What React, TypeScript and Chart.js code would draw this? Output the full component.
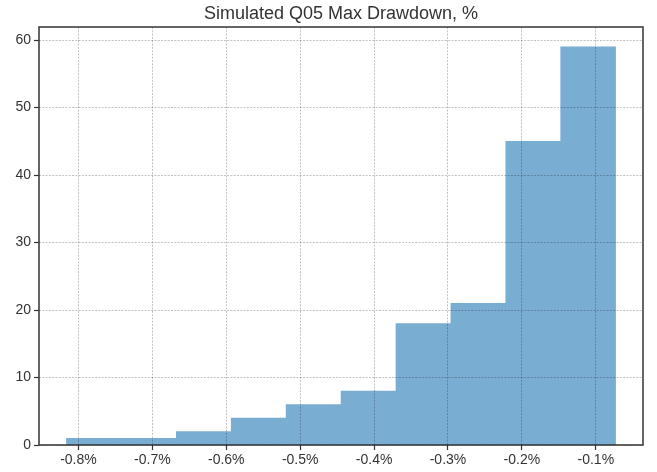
import React, { useEffect, useRef } from "react";
import { Chart, registerables } from "chart.js";

Chart.register(...registerables);

const titleText = "Simulated Q05 Max Drawdown, %";
// histogram bin edges (percent) and counts
const binEdges = [-0.8162, -0.7419, -0.6676, -0.5933, -0.519, -0.4447, -0.3704, -0.2961, -0.2218, -0.1475, -0.0733];
const counts = [1, 1, 2, 4, 6, 8, 18, 21, 45, 59];
const xTicks = [-0.8, -0.7, -0.6, -0.5, -0.4, -0.3, -0.2, -0.1];
const yTicks = [0, 10, 20, 30, 40, 50, 60];

const FONT = "'Liberation Sans', Arial, sans-serif";

const framePlugin = {
  id: "frameAndTitle",
  afterDraw(chart: any) {
    const { ctx, chartArea } = chart;
    ctx.save();
    ctx.strokeStyle = "#333";
    ctx.lineWidth = 1.5;
    ctx.strokeRect(chartArea.left, chartArea.top, chartArea.right - chartArea.left, chartArea.bottom - chartArea.top);
    ctx.fillStyle = "#333";
    ctx.font = `18px ${FONT}`;
    ctx.textAlign = "center";
    ctx.textBaseline = "alphabetic";
    ctx.fillText(titleText, (chartArea.left + chartArea.right) / 2, 19);
    ctx.restore();
  },
};

const gridOpts: any = {
  color: "rgba(0,0,0,0.3)",
  lineWidth: 0.8,
  offset: false,
  drawTicks: true,
  tickLength: 5,
  tickColor: "#333",
  tickWidth: 1.2,
  tickBorderDash: [],
  z: 1,
};
const borderOpts: any = { display: false, dash: [2, 1.3] };

export default function App() {
  const ref = useRef<HTMLCanvasElement>(null);
  useEffect(() => {
    document.body.style.margin = "0";
    const lo = binEdges[0];
    const hi = binEdges[binEdges.length - 1];
    const pad = (hi - lo) * 0.05;
    const data = counts.map((c, i) => ({ x: (binEdges[i] + binEdges[i + 1]) / 2, y: c }));
    const chart = new Chart(ref.current!, {
      type: "bar",
      data: {
        datasets: [
          {
            data,
            backgroundColor: "rgb(121,173,210)",
            borderWidth: 0,
            barPercentage: 1,
            categoryPercentage: 1,
          } as any,
        ],
      },
      plugins: [framePlugin],
      options: {
        animation: false,
        responsive: false,
        maintainAspectRatio: false,
        layout: { padding: { top: 27, right: 14, left: 0, bottom: 0 } },
        plugins: { legend: { display: false }, title: { display: false }, tooltip: { enabled: false } },
        scales: {
          x: {
            type: "linear",
            offset: false,
            min: lo - pad,
            max: hi + pad,
            afterBuildTicks: (s: any) => {
              s.ticks = xTicks.map((v) => ({ value: v }));
            },
            afterFit: (s: any) => {
              s.height = 27;
            },
            border: borderOpts,
            grid: gridOpts,
            ticks: {
              autoSkip: false,
              maxRotation: 0,
              padding: 2,
              color: "#333",
              font: { family: FONT, size: 14 },
              callback: (v: any) => Number(v).toFixed(1) + "%",
            },
          },
          y: {
            type: "linear",
            min: 0,
            max: 61.95,
            afterBuildTicks: (s: any) => {
              s.ticks = yTicks.map((v) => ({ value: v }));
            },
            afterFit: (s: any) => {
              s.width = 39;
            },
            border: borderOpts,
            grid: gridOpts,
            ticks: {
              padding: 3,
              color: "#333",
              font: { family: FONT, size: 14 },
            },
          },
        },
      },
    });
    return () => chart.destroy();
  }, []);
  return (
    <div style={{ position: "relative", width: 657, height: 472, background: "#fff" }}>
      <canvas ref={ref} width={657} height={472} style={{ display: "block" }} />
    </div>
  );
}
